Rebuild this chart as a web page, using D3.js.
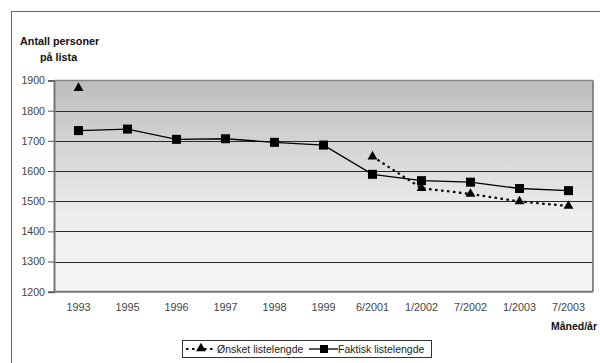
<!DOCTYPE html>
<html>
<head>
<meta charset="utf-8">
<script src="https://cdn.jsdelivr.net/npm/d3@7"></script>
<style>
  html, body { margin: 0; padding: 0; background: #fff; }
  svg { display: block; font-family: "Liberation Sans", Arial, sans-serif; }
</style>
</head>
<body>
<svg id="chart" width="600" height="363"></svg>
<script>
// Periods on the x axis
const periods = ["1993", "1995", "1996", "1997", "1998", "1999", "6/2001", "1/2002", "7/2002", "1/2003", "7/2003"];
// Desired list length (null = not reported)
const desired = [1875, null, null, null, null, null, 1648, 1543, 1524, 1499, 1484];
// Actual list length
const actual = [1734, 1739, 1705, 1707, 1695, 1686, 1589, 1568, 1563, 1542, 1535];
// Y axis ticks
const yTicks = [1200, 1300, 1400, 1500, 1600, 1700, 1800, 1900];
const seriesNames = ["Ønsket listelengde", "Faktisk listelengde"];

const svg = d3.select("#chart");
const plotL = 54, plotR = 593, plotT = 80.5, plotB = 291.7;
const FONT = "Liberation Sans, Arial, sans-serif";

// outer chart frame
svg.append("rect").attr("x", 11.5).attr("y", 11.5).attr("width", 600).attr("height", 400)
  .attr("fill", "none").attr("stroke", "#666").attr("stroke-width", 1);

const x = d3.scaleBand().domain(periods).range([plotL, plotR]);
const y = d3.scaleLinear().domain([1200, 1900]).range([plotB, plotT]);

// plot background gradient
const defs = svg.append("defs");
const grad = defs.append("linearGradient").attr("id", "bg").attr("x1", 0).attr("y1", 0).attr("x2", 0).attr("y2", 1);
grad.append("stop").attr("offset", "0%").attr("stop-color", "#bdbdbd");
grad.append("stop").attr("offset", "65%").attr("stop-color", "#eeeeee");
grad.append("stop").attr("offset", "100%").attr("stop-color", "#f5f5f5");
svg.append("rect").attr("x", plotL).attr("y", plotT).attr("width", plotR - plotL).attr("height", plotB - plotT)
  .attr("fill", "url(#bg)");

// gridlines
svg.append("g").selectAll("line").data(yTicks.filter(t => t > 1200 && t < 1900)).join("line")
  .attr("x1", plotL).attr("x2", plotR)
  .attr("y1", d => Math.round(y(d)) + 0.5).attr("y2", d => Math.round(y(d)) + 0.5)
  .attr("stroke", "#2a2a2a").attr("stroke-width", 1);

// plot frame: top, right, bottom
svg.append("line").attr("x1", plotL).attr("x2", plotR).attr("y1", plotT).attr("y2", plotT)
  .attr("stroke", "#888").attr("stroke-width", 1.5);
svg.append("line").attr("x1", plotR).attr("x2", plotR).attr("y1", plotT).attr("y2", plotB)
  .attr("stroke", "#888").attr("stroke-width", 2);
svg.append("line").attr("x1", plotL).attr("x2", plotR).attr("y1", plotB).attr("y2", plotB)
  .attr("stroke", "#777").attr("stroke-width", 2);

// y axis
const yAxis = svg.append("g").attr("transform", `translate(${plotL},0)`)
  .call(d3.axisLeft(y).tickValues(yTicks).tickSize(6).tickPadding(3).tickFormat(d3.format("d")));
yAxis.select(".domain").attr("stroke", "#777").attr("stroke-width", 2);
yAxis.selectAll(".tick line").attr("stroke", "#555");
yAxis.selectAll("text").attr("font-size", 10.6).attr("fill", "#444").attr("font-family", FONT);

// x axis labels
const xAxis = svg.append("g").attr("transform", `translate(0,${plotB})`)
  .call(d3.axisBottom(x).tickSize(0).tickPadding(12));
xAxis.select(".domain").remove();
xAxis.selectAll("text").attr("font-size", 10.8).attr("fill", "#444").attr("font-family", FONT);

// axis titles
svg.append("text").attr("x", 20).attr("y", 45).attr("font-size", 10.8).attr("font-weight", "bold")
  .attr("fill", "#111").text("Antall personer");
svg.append("text").attr("x", 40).attr("y", 61).attr("font-size", 10.8).attr("font-weight", "bold")
  .attr("fill", "#111").text("på lista");
svg.append("text").attr("x", 597).attr("y", 330).attr("text-anchor", "end").attr("font-size", 10.5)
  .attr("font-weight", "bold").attr("fill", "#111").text("Måned/år");

const cx = d => x(d) + x.bandwidth() / 2;
const tri = d3.symbol().type(d3.symbolTriangle).size(42);

// desired series: dotted line + triangles
const desiredPts = periods.map((p, i) => ({ p, v: desired[i] }));
svg.append("path").datum(desiredPts)
  .attr("d", d3.line().defined(d => d.v != null).x(d => cx(d.p)).y(d => y(d.v)))
  .attr("fill", "none").attr("stroke", "#000").attr("stroke-width", 2.2).attr("stroke-dasharray", "2.5,3.5");
svg.append("g").selectAll("path").data(desiredPts.filter(d => d.v != null)).join("path")
  .attr("d", tri).attr("transform", d => `translate(${cx(d.p)},${y(d.v)})`).attr("fill", "#000");

// actual series: solid line + squares
const actualPts = periods.map((p, i) => ({ p, v: actual[i] }));
svg.append("path").datum(actualPts)
  .attr("d", d3.line().x(d => cx(d.p)).y(d => y(d.v)))
  .attr("fill", "none").attr("stroke", "#000").attr("stroke-width", 1.3);
svg.append("g").selectAll("rect").data(actualPts).join("rect")
  .attr("x", d => cx(d.p) - 4.5).attr("y", d => y(d.v) - 4.5).attr("width", 9).attr("height", 9)
  .attr("fill", "#000");

// legend
const lg = svg.append("g");
lg.append("rect").attr("x", 182.5).attr("y", 340.5).attr("width", 249).attr("height", 17)
  .attr("fill", "#fff").attr("stroke", "#333").attr("stroke-width", 1);
lg.append("line").attr("x1", 186).attr("x2", 216).attr("y1", 349).attr("y2", 349)
  .attr("stroke", "#000").attr("stroke-width", 2.2).attr("stroke-dasharray", "2.5,3.5");
lg.append("path").attr("d", tri).attr("transform", "translate(201,348.5)").attr("fill", "#000");
lg.append("text").attr("x", 217).attr("y", 353).attr("font-size", 10.5).attr("fill", "#222").text(seriesNames[0]);
lg.append("line").attr("x1", 309).attr("x2", 338).attr("y1", 349).attr("y2", 349)
  .attr("stroke", "#000").attr("stroke-width", 1.3);
lg.append("rect").attr("x", 320).attr("y", 345).attr("width", 8).attr("height", 8).attr("fill", "#000");
lg.append("text").attr("x", 338).attr("y", 353).attr("font-size", 10.5).attr("fill", "#222").text(seriesNames[1]);
</script>
</body>
</html>
